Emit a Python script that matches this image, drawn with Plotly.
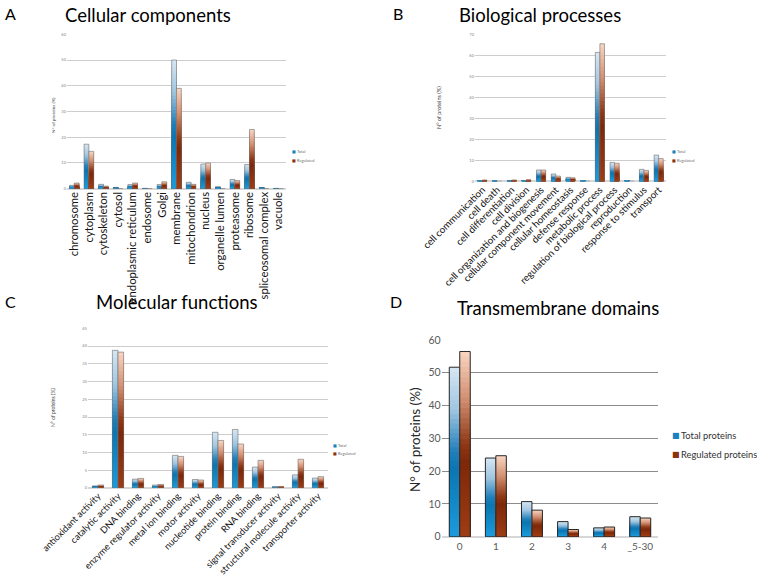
import plotly.graph_objects as go

W, H = 757, 577

# ---------------- data ----------------
cc_categories = ["chromosome", "cytoplasm", "cytoskeleton", "cytosol", "endoplasmic reticulum",
                 "endosome", "Golgi", "membrane", "mitochondrion", "nucleus", "organelle lumen",
                 "proteasome", "ribosome", "spliceosomal complex", "vacuole"]
cc_total = [1.3, 17.3, 1.7, 0.5, 1.6, 0.15, 1.6, 50.0, 2.5, 9.6, 0.8, 3.6, 9.4, 0.4, 0.15]
cc_regulated = [2.2, 14.5, 1.0, 0, 2.2, 0, 2.7, 39.0, 1.7, 10.0, 0, 3.2, 23.0, 0, 0]

bp_categories = ["cell communication", "cell death", "cell differentiation", "cell division",
                 "cell organization and biogenesis", "cellular component movement",
                 "cellular homeostasis", "defense response", "metabolic process",
                 "regulation of biological process", "reproduction", "response to stimulus",
                 "transport"]
bp_total = [0.2, 0.2, 0.3, 0.3, 5.4, 3.5, 1.9, 0.2, 61.4, 9.0, 0.2, 5.7, 12.5]
bp_regulated = [0.5, 0, 0.5, 0.6, 5.4, 2.5, 1.7, 0, 65.5, 8.6, 0, 5.2, 10.8]

mf_categories = ["antioxidant activity", "catalytic activity", "DNA binding",
                 "enzyme regulator activity", "metal ion binding", "motor activity",
                 "nucleotide binding", "protein binding", "RNA binding",
                 "signal transducer activity", "structural molecule activity",
                 "transporter activity"]
mf_total = [0.6, 38.8, 2.5, 0.85, 9.2, 2.4, 15.7, 16.5, 5.9, 0.3, 3.7, 2.8]
mf_regulated = [0.85, 38.3, 2.7, 1.0, 8.9, 2.25, 13.4, 12.4, 7.8, 0.3, 8.1, 3.2]

tm_categories = ["0", "1", "2", "3", "4", "_5-30"]
tm_total = [51.7, 24.0, 10.7, 4.6, 2.7, 6.1]
tm_regulated = [56.5, 24.7, 8.1, 2.2, 2.95, 5.7]

panel_titles = ["Cellular components", "Biological processes", "Molecular functions",
                "Transmembrane domains"]
panel_letters = ["A", "B", "C", "D"]
y_title = "N° of proteins (%)"

# ---------------- styling helpers ----------------
FONT = "Lato, 'Open Sans', sans-serif"
TOTAL_STOPS = [(0.0, (28, 155, 220)), (0.4, (10, 118, 178)), (0.5, (32, 126, 186)),
               (0.75, (160, 198, 225)), (1.0, (214, 230, 243))]
REG_STOPS = [(0.0, (158, 60, 20)), (0.4, (125, 40, 10)), (0.5, (142, 56, 22)),
             (0.75, (212, 145, 115)), (1.0, (249, 214, 195))]


def grad(stops, t):
    for (t0, c0), (t1, c1) in zip(stops[:-1], stops[1:]):
        if t <= t1:
            f = (t - t0) / (t1 - t0)
            c = [round(a + (b - a) * f) for a, b in zip(c0, c1)]
            return "rgb(%d,%d,%d)" % tuple(c)
    return "rgb(%d,%d,%d)" % stops[-1][1]


def px_x(v):
    return v / W


def px_y(v):
    return 1 - v / H


fig = go.Figure()
K = 36

panels = [
    dict(cats=cc_categories, tot=cc_total, reg=cc_regulated, xd=(67, 286), yd=(34.3, 188.7),
         ymax=60, dtick=10, w=0.33, angle=-90, tfs=11.3, ytfs=4, line=("rgb(110,110,110)", 0.6)),
    dict(cats=bp_categories, tot=bp_total, reg=bp_regulated, xd=(475, 666), yd=(34.3, 181.3),
         ymax=70, dtick=10, w=0.31, angle=-45, tfs=9.8, ytfs=4, line=("rgb(110,110,110)", 0.6)),
    dict(cats=mf_categories, tot=mf_total, reg=mf_regulated, xd=(88, 328), yd=(328.3, 488),
         ymax=45, dtick=5, w=0.28, angle=-45, tfs=9.3, ytfs=4, line=("rgb(110,110,110)", 0.6)),
    dict(cats=tm_categories, tot=tm_total, reg=tm_regulated, xd=(441.7, 658.3), yd=(340, 536.7),
         ymax=60, dtick=10, w=0.29, angle=0, tfs=10, ytfs=10.5, line=("rgb(40,40,40)", 1)),
]

for i, p in enumerate(panels):
    sfx = "" if i == 0 else str(i + 1)
    xa, ya = "x" + sfx, "y" + sfx
    for vals, stops, off in ((p["tot"], TOTAL_STOPS, -p["w"]), (p["reg"], REG_STOPS, 0.0)):
        # layered bars: tallest (top colour) first, then shorter ones on top -> vertical gradient
        for k in range(K):
            frac = (K - k) / K
            fig.add_trace(go.Bar(
                x=p["cats"], y=[v * frac for v in vals], width=p["w"], offset=off,
                marker=dict(color=grad(stops, (K - k - 0.5) / K), line=dict(width=0)),
                xaxis=xa, yaxis=ya, showlegend=False, hoverinfo="skip"))
        fig.add_trace(go.Bar(
            x=p["cats"], y=vals, width=p["w"], offset=off,
            marker=dict(color="rgba(0,0,0,0)", line=dict(color=p["line"][0], width=p["line"][1])),
            xaxis=xa, yaxis=ya, showlegend=False, hoverinfo="x+y"))

    last = i == 3
    fig.layout["xaxis" + sfx] = dict(
        domain=[px_x(p["xd"][0]), px_x(p["xd"][1])], anchor=ya, type="category",
        tickangle=p["angle"], showgrid=False, zeroline=False, automargin=False,
        showline=last, linecolor="rgb(215,215,215)", ticks="",
        tickfont=dict(family=FONT, size=p["tfs"], color="rgb(90,90,90)" if last else "rgb(20,20,20)"),
        fixedrange=True)
    fig.layout["yaxis" + sfx] = dict(
        domain=[px_y(p["yd"][1]), px_y(p["yd"][0])], anchor=xa, range=[0, p["ymax"]],
        dtick=p["dtick"], showgrid=True, automargin=False,
        gridcolor="rgb(140,140,140)" if last else "rgb(205,205,205)",
        gridwidth=1, zeroline=True, zerolinecolor="rgb(215,215,215)", showline=False,
        ticks="", tickfont=dict(family=FONT, size=p["ytfs"],
                                color="rgb(90,90,90)" if last else "rgb(130,130,130)"),
        fixedrange=True)

annotations = []
# panel letters and titles
letter_pos = [(10, 13), (398, 13), (10, 301), (396, 301)]
title_pos = [(148, 15, 18.5), (540, 15, 18.5), (176, 302, 18.5), (558, 308, 18.5)]
for L, (lx, ly), t, (tx, ty, ts) in zip(panel_letters, letter_pos, panel_titles, title_pos):
    annotations.append(dict(text=L, x=px_x(lx), y=px_y(ly), xref="paper", yref="paper",
                            xanchor="center", yanchor="middle", showarrow=False,
                            font=dict(family=FONT, size=16, color="black")))
    annotations.append(dict(text=t, x=px_x(tx), y=px_y(ty), xref="paper", yref="paper",
                            xanchor="center", yanchor="middle", showarrow=False,
                            font=dict(family=FONT, size=ts, color="black")))

# y-axis titles
for (yx, yy, ys) in [(53, 115, 4.6), (439, 108, 5.5), (53, 408, 5), (415, 440, 13.5)]:
    annotations.append(dict(text=y_title, x=px_x(yx), y=px_y(yy), xref="paper", yref="paper",
                            xanchor="center", yanchor="middle", textangle=-90, showarrow=False,
                            font=dict(family=FONT, size=ys, color="rgb(60,60,60)" if ys < 10 else "rgb(40,40,40)")))

# legends (square marker + label)
legend_labels_small = ["Total", "Regulated"]
legend_labels_big = ["Total proteins", "Regulated proteins"]
sq_colors = ["rgb(25,130,190)", "rgb(140,50,15)"]
for (lx, ly1, ly2, fs, sq, gap, labels) in [(293, 151, 160, 4, 4, 2.5, legend_labels_small),
                                            (673, 151, 160, 4, 4, 2.5, legend_labels_small),
                                            (334, 445.7, 453.7, 4, 4, 2.5, legend_labels_small),
                                            (672, 435.7, 454.3, 9.3, 8, 8, legend_labels_big)]:
    for ly, lab, c in zip((ly1, ly2), labels, sq_colors):
        annotations.append(dict(
            text="■", x=px_x(lx + gap / 2), y=px_y(ly), xref="paper", yref="paper",
            xanchor="center", yanchor="middle", showarrow=False, borderpad=0,
            font=dict(family="DejaVu Sans", size=sq, color=c)))
        annotations.append(dict(
            text=lab, x=px_x(lx + gap), y=px_y(ly), xref="paper", yref="paper", xanchor="left",
            yanchor="middle", showarrow=False, borderpad=0,
            font=dict(family=FONT, size=fs, color="rgb(50,50,50)" if fs > 5 else "rgb(110,110,110)")))

fig.update_layout(
    width=W, height=H, margin=dict(l=0, r=0, t=0, b=0, autoexpand=False),
    paper_bgcolor="white", plot_bgcolor="white", barmode="overlay",
    showlegend=False, annotations=annotations, font=dict(family=FONT))

# remove the page's default body margin so the figure sits at the window's top-left corner
fig.write_html("out.html", config={"displayModeBar": False},
               post_script="document.body.style.margin='0';")
